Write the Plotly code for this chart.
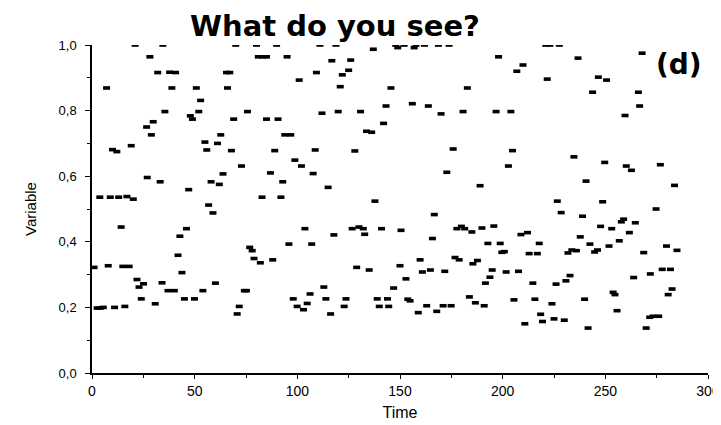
import plotly.graph_objects as go

# Time stamps and values
time = [
    21, 34.5, 28.2, 32, 7.1, 35.5, 29.8, 26.6, 28.9, 19.1, 10, 12.1, 26.9, 33.2,
    3.8, 8.9, 13, 17, 20.1, 14.2, 1, 7.9, 15, 18.1, 21.9, 25.1, 22.9, 34.1, 24,
    30.8, 2.5, 4, 5.5, 11, 16,
    70, 37.8, 40.7, 65.5, 67.1, 38.9, 50.8, 66, 52.9, 52, 47.9, 48.9, 69, 62.7,
    55, 61.1, 55.9, 67.9, 63.8, 58, 62, 47.1, 56.8, 58.9, 46, 42.8, 41.9, 43.8,
    60.1, 37, 40.1, 54, 45, 49.9, 71.7, 70.7,
    80.1, 89.9, 81, 83, 85, 95, 100.9, 75.7, 85, 90.6, 93.9, 96.8, 89, 98.8,
    72.8, 102, 86.9, 107.7, 92.9, 82.8, 92, 103.7, 95.9, 107, 76.8, 78, 78.9,
    82, 88, 74.2, 75.2, 106.2, 98, 99.9, 104.8, 103,
    111, 118.8, 137, 116.8, 126, 125, 109.3, 121.9, 120.9, 143.2, 112, 119.9,
    130.8, 142, 133.7, 136.2, 108.7, 128, 115, 137.8, 126.7, 130, 132.1, 141,
    117.8, 132.8, 128.9, 135, 112.9, 113.9, 123.7, 138.9, 143.9, 122.8, 139.9,
    144.5, 116.2,
    147.9, 152, 157.8, 161.9, 168.7, 173.9, 148.9, 156.9, 145.6, 156, 163.8,
    170, 180.7, 175.9, 172.8, 166.7, 150.5, 177.7, 179.9, 181.5, 165.8, 176.8,
    178.8, 159.8, 150, 160.9, 164.8, 171.8, 152.9, 146.9, 153.8, 154.9, 163,
    171, 174.9, 158.9, 167.9,
    198, 209.9, 206.9, 182.8, 196.8, 204, 204.8, 202.8, 189, 185, 189.9, 195.7,
    208.9, 212.1, 192.8, 198.8, 217.8, 199.6, 200.8, 212.9, 216.9, 187.7, 185.5,
    194.9, 201.7, 207.7, 193.8, 191.6, 214.7, 183.8, 205.5, 215.7, 186.7, 191,
    218.5, 210.8,
    221, 223, 227.6, 236.7, 221.7, 246.6, 250.6, 243.8, 234.7, 249.7, 240.6,
    226.6, 248.7, 228.5, 238.9, 247.7, 253.1, 237.8, 242.5, 251.8, 231.8, 233.7,
    235.9, 244.8, 246.2, 232.8, 230.8, 226, 253.8, 254.7, 239.9, 224, 219.4,
    225, 230, 241.6,
    267.9, 266.1, 266.7, 259.6, 260.2, 262.7, 276.8, 283.7, 274.7, 258.9, 257.8,
    264.6, 261.7, 256.8, 279.8, 284.9, 268.7, 277.7, 281.7, 271.9, 263.8, 282.5,
    280.6, 255.7, 271.6, 273.3, 276, 269.9,
]

variable = [
    1.0, 1.0, 0.964, 0.916, 0.869, 0.797, 0.766, 0.75, 0.726, 0.693, 0.681, 0.675, 0.596, 0.583,
    0.536, 0.536, 0.536, 0.538, 0.53, 0.445, 0.322, 0.327, 0.325, 0.325, 0.285, 0.272, 0.262, 0.275, 0.226,
    0.211, 0.198, 0.198, 0.2, 0.2, 0.203,
    1.0, 0.917, 0.916, 0.916, 0.916, 0.869, 0.869, 0.869, 0.831, 0.797, 0.784, 0.774, 0.774, 0.726,
    0.704, 0.70, 0.68, 0.678, 0.607, 0.583, 0.575, 0.559, 0.512, 0.488, 0.44, 0.417, 0.359, 0.306,
    0.274, 0.251, 0.251, 0.251, 0.226, 0.226, 0.203, 0.18,
    1.0, 1.0, 0.964, 0.964, 0.964, 0.964, 0.893, 0.797, 0.774, 0.774, 0.726, 0.726, 0.678, 0.649,
    0.631, 0.631, 0.61, 0.608, 0.583, 0.536, 0.536, 0.44, 0.393, 0.393, 0.383, 0.373, 0.349,
    0.336, 0.345, 0.251, 0.251, 0.241, 0.226, 0.203, 0.212, 0.193,
    1.0, 1.0, 0.987, 0.952, 0.954, 0.923, 0.916, 0.909, 0.873, 0.814, 0.792, 0.797,
    0.797, 0.761, 0.737, 0.734, 0.68, 0.677, 0.566, 0.524, 0.44, 0.445, 0.44, 0.44,
    0.421, 0.423, 0.322, 0.314, 0.262, 0.226, 0.226, 0.226, 0.226, 0.203, 0.203,
    0.203, 0.18,
    1.0, 1.0, 1.0, 1.0, 1.0, 1.0, 0.992, 0.992, 0.869, 0.821, 0.814,
    0.79, 0.797, 0.683, 0.612, 0.483, 0.435, 0.44, 0.447, 0.44, 0.41, 0.352,
    0.345, 0.345, 0.327, 0.308, 0.314, 0.31, 0.287, 0.259, 0.225, 0.22, 0.205,
    0.205, 0.205, 0.184, 0.188,
    0.964, 0.939, 0.92, 0.869, 0.797, 0.797, 0.678, 0.631, 0.571, 0.43, 0.442, 0.448,
    0.422, 0.428, 0.395, 0.395, 0.395, 0.368, 0.37, 0.364, 0.364, 0.343, 0.333,
    0.314, 0.308, 0.31, 0.292, 0.274, 0.274, 0.232, 0.223, 0.225, 0.214, 0.205,
    0.179, 0.15,
    1.0, 1.0, 1.0, 0.96, 0.896, 0.902, 0.893, 0.856, 0.659, 0.642, 0.585,
    0.524, 0.522, 0.489, 0.478, 0.447, 0.44, 0.415, 0.393, 0.387, 0.366, 0.375,
    0.373, 0.369, 0.375, 0.297, 0.281, 0.271, 0.246, 0.239, 0.225, 0.211, 0.157,
    0.165, 0.161, 0.137,
    0.975, 0.856, 0.814, 0.785, 0.631, 0.618, 0.635, 0.572, 0.5, 0.469, 0.461,
    0.458, 0.428, 0.403, 0.387, 0.374, 0.367, 0.316, 0.316, 0.302, 0.291, 0.256,
    0.239, 0.19, 0.17, 0.173, 0.173, 0.137,
]

x_ticks = [0, 50, 100, 150, 200, 250, 300]
y_ticks = [0.0, 0.2, 0.4, 0.6, 0.8, 1.0]
y_tick_labels = ["0,0", "0,2", "0,4", "0,6", "0,8", "1,0"]

fig = go.Figure()
fig.add_trace(go.Scatter(
    x=time, y=variable, mode="markers",
    marker=dict(symbol="line-ew", size=5, color="black",
                line=dict(width=3.6, color="black")),
    showlegend=False,
))

font_main = "Liberation Sans, Arial, sans-serif"
# the page body adds an 8px offset, so the figure is 713x417
fig.update_layout(
    width=713, height=417,
    margin=dict(l=84, r=13, t=37, b=52),
    paper_bgcolor="white", plot_bgcolor="white",
    font=dict(family=font_main, color="black"),
    title=dict(text="<b>What do you see?</b>", x=0.4586, xanchor="center",
               y=0.958, yanchor="middle",
               font=dict(family="DejaVu Sans, sans-serif", size=29, color="black")),
    xaxis=dict(range=[0, 300], tickvals=x_ticks, showgrid=False, zeroline=False,
               automargin=False,
               showline=True, linecolor="black", linewidth=1.5,
               ticks="outside", ticklen=4, tickwidth=1.2, tickcolor="black",
               tickfont=dict(size=14),
               minor=dict(ticks="outside", dtick=25, ticklen=3, tickcolor="black"),
               title=dict(text="Time", font=dict(size=16), standoff=9)),
    yaxis=dict(range=[0, 1], tickvals=y_ticks, ticktext=y_tick_labels,
               showgrid=False, zeroline=False, automargin=False,
               showline=True, linecolor="black", linewidth=1.5,
               ticks="outside", ticklen=5, tickwidth=1.2, tickcolor="black",
               tickfont=dict(size=13), ticklabelstandoff=6,
               minor=dict(ticks="outside", dtick=0.1, ticklen=3, tickcolor="black"),
               title=dict(text="Variable",
                          font=dict(family="Liberation Sans Narrow, Liberation Sans, sans-serif", size=15),
                          standoff=18)),
    annotations=[dict(text="<b>(d)</b>", x=0.9537, y=0.942, xref="paper", yref="paper",
                      xanchor="center", yanchor="middle", showarrow=False,
                      font=dict(family="DejaVu Sans, sans-serif", size=28, color="black"))],
)

fig.write_html("out.html")
